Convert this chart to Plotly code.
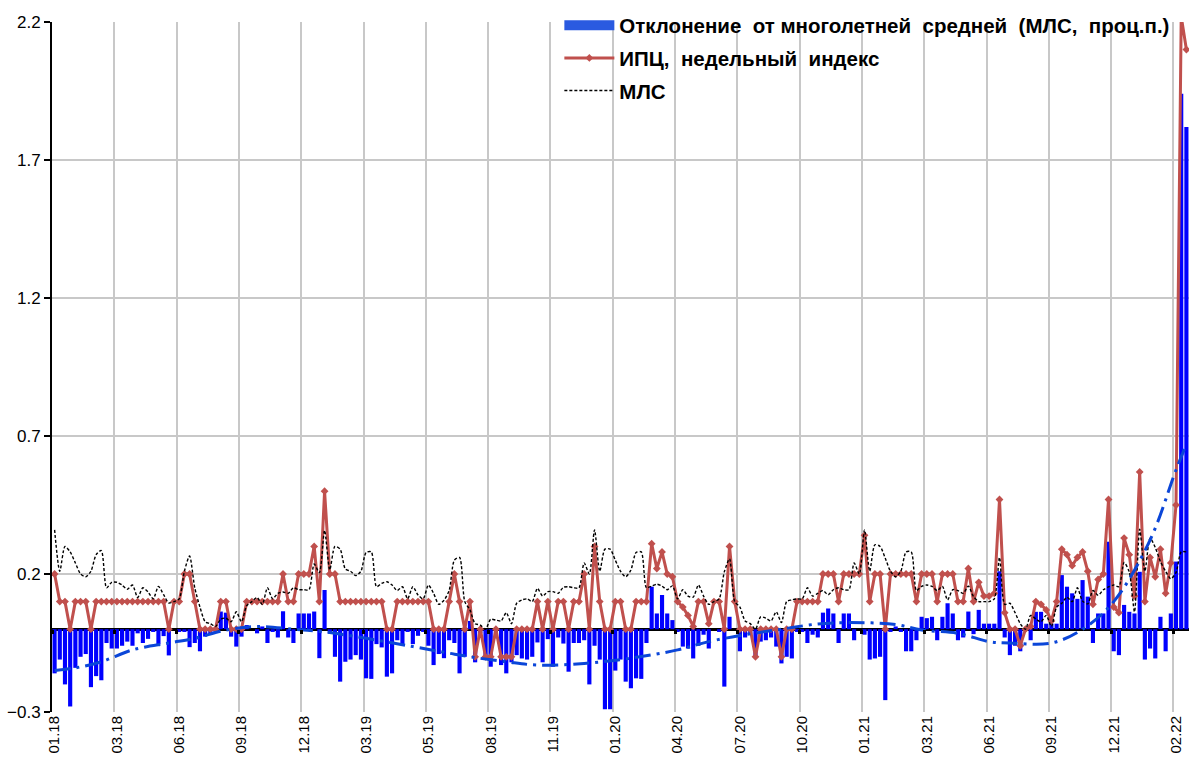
import plotly.graph_objects as go

# ---------------- data (weekly, Jan 2018 - Mar 2022) ----------------
tick_labels = ["01.18", "03.18", "06.18", "09.18", "12.18", "03.19", "05.19", "08.19",
               "11.19", "01.20", "04.20", "07.20", "10.20", "01.21", "03.21", "06.21",
               "09.21", "12.21", "02.22"]

# weekly CPI, %
cpi = [
    0.2, 0.1, 0.1, 0.0, 0.1, 0.1, 0.1, 0.0, 0.1, 0.1, 0.1, 0.1,
    0.1, 0.1, 0.1, 0.1, 0.1, 0.1, 0.1, 0.1, 0.1, 0.1, 0.0, 0.1,
    0.1, 0.2, 0.2, 0.1, 0.0, 0.0, 0.0, 0.0, 0.1, 0.1, 0.0, 0.0,
    0.0, 0.1, 0.1, 0.1, 0.1, 0.1, 0.1, 0.1, 0.2, 0.1, 0.1, 0.2,
    0.2, 0.2, 0.3, 0.1, 0.5, 0.2, 0.2, 0.1, 0.1, 0.1, 0.1, 0.1,
    0.1, 0.1, 0.1, 0.1, 0.0, 0.0, 0.1, 0.1, 0.1, 0.1, 0.1, 0.1,
    0.1, 0.0, 0.0, 0.0, 0.1, 0.2, 0.1, 0.0, 0.1, -0.1, 0.0, -0.1,
    -0.1, 0.0, -0.1, -0.1, -0.1, 0.0, 0.0, 0.0, 0.0, 0.1, 0.0, 0.1,
    0.0, 0.1, 0.1, 0.0, 0.1, 0.1, 0.2, 0.0, 0.3, 0.1, 0.0, 0.0,
    0.1, 0.1, 0.0, 0.0, 0.1, 0.1, 0.1, 0.31, 0.22, 0.28, 0.2, 0.19,
    0.1, 0.08, 0.05, 0.01, 0.1, 0.1, 0.02, 0.1, 0.1, 0.0, 0.3, 0.1,
    0.0, 0.0, 0.0, -0.1, 0.0, 0.0, 0.0, 0.0, -0.1, 0.0, 0.0, 0.1,
    0.1, 0.1, 0.1, 0.1, 0.2, 0.2, 0.2, 0.1, 0.2, 0.2, 0.2, 0.2,
    0.34, 0.1, 0.2, 0.2, 0.0, 0.2, 0.2, 0.2, 0.2, 0.2, 0.1, 0.2,
    0.2, 0.2, 0.1, 0.2, 0.2, 0.2, 0.1, 0.1, 0.22, 0.1, 0.17, 0.12,
    0.12, 0.13, 0.47, 0.06, 0.0, 0.0, -0.06, 0.0, 0.01, 0.1, 0.09, 0.07,
    0.03, 0.1, 0.29, 0.27, 0.23, 0.26, 0.28, 0.21, 0.09, 0.18, 0.2, 0.47,
    0.08, 0.06, 0.33, 0.27, 0.12, 0.57, 0.1, 0.26, 0.19, 0.29, 0.13, 0.24,
    0.45, 2.22, 2.1,
]

# multi-year average (МЛС), %
mls = [
    0.36, 0.21, 0.30, 0.28, 0.24, 0.20, 0.19, 0.21, 0.27, 0.285, 0.15, 0.17,
    0.17, 0.16, 0.145, 0.16, 0.115, 0.15, 0.135, 0.11, 0.155, 0.125, 0.095, 0.10,
    0.11, 0.21, 0.265, 0.15, 0.08, 0.027, 0.02, 0.01, 0.036, 0.04, 0.027, 0.063,
    0.027, 0.085, 0.10, 0.115, 0.09, 0.15, 0.11, 0.13, 0.135, 0.13, 0.15, 0.143,
    0.143, 0.143, 0.236, 0.205, 0.358, 0.215, 0.30, 0.29, 0.218, 0.21, 0.194, 0.21,
    0.278, 0.28, 0.154, 0.166, 0.172, 0.16, 0.14, 0.154, 0.11, 0.154, 0.124, 0.11,
    0.16, 0.13, 0.09, 0.105, 0.14, 0.25, 0.26, 0.10, 0.07, 0.02, 0.015, 0.0,
    0.036, 0.033, 0.03, 0.06, 0.02, 0.094, 0.106, 0.11, 0.10, 0.148, 0.12, 0.136,
    0.136, 0.13, 0.152, 0.154, 0.15, 0.15, 0.24, 0.20, 0.36, 0.21, 0.29, 0.29,
    0.25, 0.21, 0.19, 0.214, 0.278, 0.28, 0.15, 0.156, 0.163, 0.156, 0.143, 0.157,
    0.11, 0.143, 0.12, 0.116, 0.16, 0.12, 0.09, 0.10, 0.11, 0.208, 0.255, 0.10,
    0.08, 0.03, 0.02, 0.0, 0.045, 0.04, 0.03, 0.063, 0.024, 0.10, 0.106, 0.11,
    0.11, 0.15, 0.12, 0.13, 0.14, 0.125, 0.143, 0.15, 0.143, 0.143, 0.24, 0.20,
    0.36, 0.21, 0.306, 0.30, 0.257, 0.21, 0.19, 0.21, 0.28, 0.28, 0.14, 0.155,
    0.16, 0.155, 0.14, 0.155, 0.106, 0.143, 0.14, 0.13, 0.156, 0.118, 0.10, 0.10,
    0.10, 0.11, 0.26, 0.09, 0.094, 0.06, 0.02, 0.0, 0.05, 0.037, 0.027, 0.05,
    0.01, 0.08, 0.094, 0.116, 0.10, 0.15, 0.102, 0.092, 0.14, 0.123, 0.143, 0.153,
    0.16, 0.154, 0.242, 0.207, 0.063, 0.362, 0.21, 0.33, 0.296, 0.245, 0.21, 0.183,
    0.205, 0.28, 0.28,
]

# deviation from multi-year average, p.p.
deviation = [
    -0.16, -0.11, -0.20, -0.28, -0.14, -0.10, -0.09, -0.21, -0.17, -0.185, -0.05, -0.07,
    -0.07, -0.06, -0.045, -0.06, -0.015, -0.05, -0.035, -0.01, -0.055, -0.025, -0.095, 0.0,
    -0.01, -0.01, -0.065, -0.05, -0.08, -0.027, -0.02, -0.01, 0.064, 0.06, -0.027, -0.063,
    -0.027, 0.015, 0.0, -0.015, 0.01, -0.05, -0.01, -0.03, 0.065, -0.03, -0.05, 0.057,
    0.057, 0.057, 0.064, -0.105, 0.142, -0.015, -0.1, -0.19, -0.118, -0.11, -0.094, -0.11,
    -0.178, -0.18, -0.054, -0.066, -0.172, -0.16, -0.04, -0.054, -0.01, -0.054, -0.024, -0.01,
    -0.06, -0.13, -0.09, -0.105, -0.04, -0.05, -0.16, -0.1, 0.03, -0.12, -0.015, -0.1,
    -0.136, -0.033, -0.13, -0.16, -0.12, -0.094, -0.106, -0.11, -0.1, -0.048, -0.12, -0.036,
    -0.136, -0.03, -0.052, -0.154, -0.05, -0.05, -0.04, -0.2, -0.06, -0.11, -0.29, -0.29,
    -0.15, -0.11, -0.19, -0.214, -0.178, -0.18, -0.05, 0.154, 0.057, 0.124, 0.057, 0.033,
    -0.01, -0.063, -0.07, -0.106, -0.06, -0.02, -0.07, 0.0, -0.01, -0.208, 0.045, 0.0,
    -0.08, -0.03, -0.02, -0.1, -0.045, -0.04, -0.03, -0.063, -0.124, -0.1, -0.106, -0.01,
    -0.01, -0.05, -0.02, -0.03, 0.06, 0.075, 0.057, -0.05, 0.057, 0.057, -0.04, 0.0,
    -0.02, -0.11, -0.106, -0.1, -0.257, -0.01, 0.01, -0.01, -0.08, -0.08, -0.04, 0.045,
    0.04, 0.045, -0.04, 0.045, 0.094, 0.057, -0.04, -0.03, 0.064, -0.018, 0.07, 0.02,
    0.02, 0.02, 0.21, -0.03, -0.094, -0.06, -0.08, 0.0, -0.04, 0.063, 0.063, 0.02,
    0.02, 0.02, 0.196, 0.154, 0.13, 0.11, 0.178, 0.118, -0.05, 0.057, 0.057, 0.317,
    -0.08, -0.094, 0.088, 0.063, 0.057, 0.208, -0.11, -0.07, -0.106, 0.045, -0.08, 0.057,
    0.245, 1.94, 1.82,
]

# trend of the deviation (at selected weeks)
trend_week = [0, 4, 9, 15, 22, 27, 33, 39, 46, 52, 60, 69, 76, 80, 87, 93, 102, 111,
              120, 126, 133, 140, 147, 153, 162, 167, 174, 180, 184, 192, 198, 204,
              211, 216, 218]
trend_val = [-0.15, -0.14, -0.118, -0.075, -0.05, -0.033, -0.003, 0.01, 0.0, -0.01,
             -0.033, -0.063, -0.087, -0.1, -0.118, -0.13, -0.124, -0.105,
             -0.075, -0.045, -0.02, 0.0, 0.019, 0.024, 0.017, -0.003, -0.015, -0.045,
             -0.05, -0.05, 0.0, 0.1, 0.323, 0.577, 0.67]

weeks = list(range(len(cpi)))
n = len(cpi)
label_pos = [12 * k for k in range(len(tick_labels))]
grid_pos = [12 * k - 0.5 for k in range(len(tick_labels))]

FONT = "Liberation Sans, Arial, sans-serif"
NB = "\u00a0"

fig = go.Figure()

fig.add_trace(go.Bar(
    x=weeks, y=deviation, marker=dict(color="#0000ff", line=dict(width=0)),
    showlegend=False, hoverinfo="skip"))

# legend patch for the bars (wide blue block, like the original)
fig.add_trace(go.Scatter(
    x=[None], y=[None], mode="lines",
    name=f"Отклонение{NB} от многолетней{NB} средней{NB} (МЛС,{NB} проц.п.)",
    line=dict(color="#2a5ae0", width=10),
    legendgroup="a"))

fig.add_trace(go.Scatter(
    x=weeks, y=cpi, mode="lines+markers", name=f"ИПЦ,{NB} недельный{NB} индекс",
    line=dict(color="#c0504d", width=3),
    marker=dict(symbol="diamond", size=6, color="#c0504d"),
    legendgroup="b"))

fig.add_trace(go.Scatter(
    x=weeks, y=mls, mode="lines", name="МЛС",
    line=dict(color="black", width=1.4, dash="3px,2px", shape="spline", smoothing=0.7),
    legendgroup="c"))

fig.add_trace(go.Scatter(
    x=trend_week, y=trend_val, mode="lines", showlegend=False, hoverinfo="skip",
    line=dict(color="#0b46d8", width=3, dash="16px,6px,3px,6px", shape="spline", smoothing=1.0)))

# helper axis for tick marks on the zero line
fig.add_trace(go.Scatter(x=[0], y=[None], xaxis="x2", showlegend=False, hoverinfo="skip"))

fig.update_layout(
    width=1189, height=765,
    margin=dict(l=52, r=0, t=22, b=53),
    paper_bgcolor="white", plot_bgcolor="white",
    barmode="overlay", bargap=0.2,
    font=dict(family=FONT, color="black"),
    showlegend=True,
    legend=dict(
        x=0.988, xanchor="right", y=1.024, yanchor="top",
        bgcolor="rgba(0,0,0,0)", borderwidth=0,
        font=dict(family=FONT, size=20.5, color="black", weight="bold"),
        traceorder="grouped", tracegroupgap=3, itemwidth=50,
    ),
    xaxis=dict(
        range=[-0.5, n - 0.5],
        tickmode="array", tickvals=label_pos, ticktext=tick_labels,
        tickangle=-90, tickfont=dict(size=15, family=FONT, color="black"),
        showgrid=False, zeroline=False, showline=False, ticks="",
        minor=dict(tickmode="array", tickvals=grid_pos, showgrid=True,
                   gridcolor="#c8c8c8", gridwidth=1.5, ticks=""),
    ),
    xaxis2=dict(
        overlaying="x", anchor="free", position=0.3 / 2.5,
        range=[-0.5, n - 0.5], tickmode="array", tickvals=grid_pos,
        ticks="outside", ticklen=4, tickwidth=3, tickcolor="black",
        showticklabels=False, showgrid=False, zeroline=False, showline=False,
    ),
    yaxis=dict(
        range=[-0.3, 2.2], tickmode="array",
        tickvals=[-0.3, 0.2, 0.7, 1.2, 1.7, 2.2], tickformat=".1f",
        tickfont=dict(size=17, family=FONT, color="black"),
        showgrid=True, gridcolor="#c8c8c8", gridwidth=1.5,
        zeroline=True, zerolinecolor="black", zerolinewidth=3,
        showline=True, linecolor="black", linewidth=2,
        ticks="outside", ticklen=6, tickwidth=2, tickcolor="black",
    ),
)

fig.write_html("out.html", config={"displayModeBar": False},
               post_script="document.body.style.margin='0px';")
